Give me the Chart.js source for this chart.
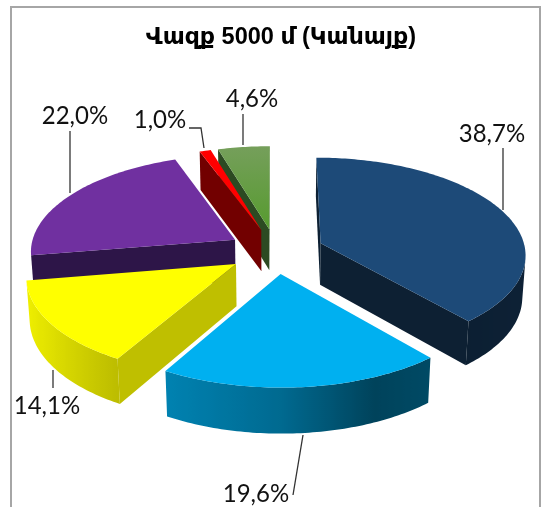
<!DOCTYPE html>
<html>
<head>
<meta charset="utf-8">
<style>
  html, body { margin: 0; padding: 0; background: #fff; overflow: hidden; }
  #pie { display: block; }
</style>
<script src="https://cdn.jsdelivr.net/npm/chart.js@4"></script>
</head>
<body>
<canvas id="pie" width="546" height="507"></canvas>
<script>
const titleText = "Վազք 5000 մ (Կանայք)";
const shares = [38.7, 19.6, 14.1, 22.0, 1.0, 4.6];
const topColors = ["#1d4a78", "#00b0f0", "#ffff00", "#7030a0", "#ff0000", "#659c46"];
const wallColors = ["#0d2033", "#006080", "#bfbf00", "#2d1548", "#720000", "#2c4a22"];

// text centre and leader line for each slice
const labelSpots = [
  { x: 492, y: 134, line: [[503, 210], [503, 148]] },
  { x: 256, y: 494, line: [[303, 435], [293, 495]] },
  { x: 47, y: 406, line: [[53, 370], [53, 388]] },
  { x: 75, y: 116, line: [[70, 193], [70, 131]] },
  { x: 160, y: 120, line: [[204, 148], [201, 128], [189, 128]] },
  { x: 252, y: 99, line: [[243, 145], [243, 114]] }
];

// camera looking down at the pie
const cam = { cx: 276, cy: 251, dist: 1700, tilt: 28 * Math.PI / 180, depth: 48 };

function project(u, v, z) {
  const s = Math.sin(cam.tilt), c = Math.cos(cam.tilt);
  const k = (cam.dist - v * c - z * s) / cam.dist;
  return [cam.cx + u / k, cam.cy + (v * s - z * c) / k];
}

// rim brightness by which way the wall faces (-1 left .. 1 right)
const rimStops = [[-1, 0.95], [-0.5, 0.74], [0, 0.6], [0.4, 0.38], [0.65, 0.42], [1, 0.45]];
function rimShade(nx) {
  for (let i = 1; i < rimStops.length; i++) {
    if (nx <= rimStops[i][0]) {
      const a = rimStops[i - 1], b = rimStops[i];
      return a[1] + (b[1] - a[1]) * (nx - a[0]) / (b[0] - a[0]);
    }
  }
  return 0.45;
}

function darken(hex, f) {
  const n = parseInt(hex.slice(1), 16);
  return `rgb(${Math.round((n >> 16) * f)},${Math.round(((n >> 8) & 255) * f)},${Math.round((n & 255) * f)})`;
}

function quadArea(q) {
  let a = 0;
  for (let i = 0; i < q.length; i++) {
    const p = q[i], n = q[(i + 1) % q.length];
    a += p[0] * n[1] - n[0] * p[1];
  }
  return a / 2;
}

function fillPoly(ctx, pts, color) {
  ctx.beginPath();
  pts.forEach((p, i) => i ? ctx.lineTo(p[0], p[1]) : ctx.moveTo(p[0], p[1]));
  ctx.closePath();
  ctx.fillStyle = color;
  ctx.fill();
}

function wallQuad(p, q) {
  return [
    project(p.u, p.v, 0), project(q.u, q.v, 0),
    project(q.u, q.v, -cam.depth), project(p.u, p.v, -cam.depth)
  ];
}

function drawSlice(ctx, arc, i) {
  const mid = (arc.startAngle + arc.endAngle) / 2;
  const off = arc.options.offset;
  const apex = { u: off * Math.cos(mid), v: off * Math.sin(mid) };
  const rim = [];
  const steps = Math.max(2, Math.ceil((arc.endAngle - arc.startAngle) * 180 / Math.PI));
  for (let n = 0; n <= steps; n++) {
    const a = arc.startAngle + (arc.endAngle - arc.startAngle) * n / steps;
    rim.push({ u: apex.u + arc.outerRadius * Math.cos(a), v: apex.v + arc.outerRadius * Math.sin(a), a });
  }

  // the two flat cut walls
  [[apex, rim[0]], [rim[rim.length - 1], apex]].forEach(([p, q]) => {
    const quad = wallQuad(p, q);
    if (quadArea(quad) < 0) fillPoly(ctx, quad, wallColors[i]);
  });

  // curved wall: the part of the rim facing the camera, shaded along x
  const front = [];
  for (let n = 0; n < rim.length - 1; n++) {
    if (quadArea(wallQuad(rim[n], rim[n + 1])) < 0) {
      if (!front.length) front.push(rim[n]);
      front.push(rim[n + 1]);
    }
  }
  if (front.length > 1) {
    const upper = front.map(p => project(p.u, p.v, 0));
    const lower = front.map(p => project(p.u, p.v, -cam.depth)).reverse();
    const xs = upper.map(p => p[0]);
    const x0 = Math.min(...xs), x1 = Math.max(...xs);
    const g = ctx.createLinearGradient(x0, 0, x1, 0);
    front.forEach((p, n) => {
      const t = Math.min(1, Math.max(0, (xs[n] - x0) / (x1 - x0 || 1)));
      g.addColorStop(t, darken(topColors[i], rimShade(Math.cos(p.a))));
    });
    fillPoly(ctx, upper.concat(lower), g);
  }

  let faceFill = topColors[i];
  if (i === 5) {
    const g = ctx.createLinearGradient(0, 144, 0, 225);
    g.addColorStop(0, "#769f5c");
    g.addColorStop(1, "#589b31");
    faceFill = g;
  }
  fillPoly(ctx, [apex].concat(rim).map(p => project(p.u, p.v, 0)), faceFill);
}

// paints the pie from the arc elements Chart.js laid out
const tiltedPie = {
  id: "tiltedPie",
  beforeDatasetsDraw(chart) {
    const ctx = chart.ctx;
    const arcs = chart.getDatasetMeta(0).data;
    ctx.save();
    arcs.map((arc, i) => ({ arc, i }))
      .sort((a, b) => Math.sin((a.arc.startAngle + a.arc.endAngle) / 2) - Math.sin((b.arc.startAngle + b.arc.endAngle) / 2))
      .forEach(s => drawSlice(ctx, s.arc, s.i));
    ctx.restore();
    return false;
  },
  afterDraw(chart) {
    const ctx = chart.ctx;
    ctx.save();
    ctx.strokeStyle = "#a6a6a6";
    ctx.lineWidth = 2;
    ctx.strokeRect(11, 7, 529, 520);
    ctx.strokeStyle = "#333333";
    ctx.lineWidth = 1.3;
    ctx.fillStyle = "#111111";
    ctx.font = "25.5px Lato";
    ctx.textAlign = "center";
    ctx.textBaseline = "middle";
    labelSpots.forEach((spot, i) => {
      ctx.beginPath();
      spot.line.forEach((p, n) => n ? ctx.lineTo(p[0], p[1]) : ctx.moveTo(p[0], p[1]));
      ctx.stroke();
      ctx.save();
      ctx.translate(spot.x, spot.y);
      ctx.scale(0.94, 1);
      ctx.fillText(shares[i].toFixed(1).replace(".", ",") + "%", 0, 0);
      ctx.restore();
    });
    ctx.restore();
  }
};

new Chart(document.getElementById("pie"), {
  type: "pie",
  data: {
    labels: shares.map(v => v.toFixed(1).replace(".", ",") + "%"),
    datasets: [{
      data: shares,
      backgroundColor: topColors,
      borderWidth: 0,
      offset: 48
    }]
  },
  options: {
    responsive: false,
    animation: false,
    radius: 205,
    layout: { padding: { left: 16, top: 23 } },
    plugins: {
      legend: { display: false },
      tooltip: { enabled: false },
      title: {
        display: true,
        text: titleText,
        color: "#000000",
        font: { family: "'Liberation Sans', 'DejaVu Sans'", size: 23.5, weight: "bold" },
        padding: 0
      }
    }
  },
  plugins: [tiltedPie]
});
</script>
</body>
</html>
